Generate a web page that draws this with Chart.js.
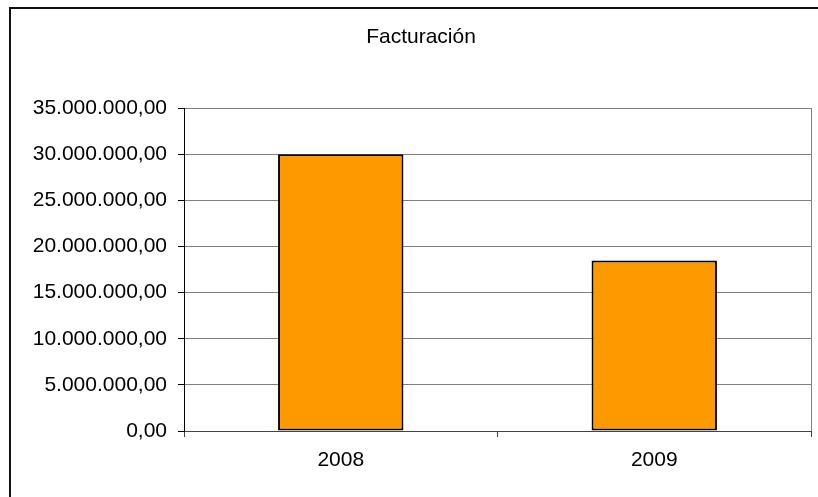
<!DOCTYPE html>
<html>
<head>
<meta charset="utf-8">
<title>Facturación</title>
<script src="https://cdn.jsdelivr.net/npm/chart.js@4.4.1/dist/chart.umd.min.js"></script>
<style>
    html, body { margin: 0; padding: 0; background: #fff; overflow: hidden; }
    .chart-wrap { position: relative; width: 818px; height: 497px; }
    .frame {
        position: absolute; left: 9px; top: 7px; width: 900px; height: 600px;
        border: 2px solid #111; pointer-events: none;
    }
</style>
</head>
<body>
<div class="chart-wrap">
    <canvas id="chart"></canvas>
    <div class="frame"></div>
</div>
<script>
// Chart data
const years = ['2008', '2009'];
const revenue = [30000000, 18500000];
const yMin = 0;
const yMax = 35000000;
const yStep = 5000000;

// 35000000 -> "35.000.000,00"
function formatEs(value) {
    const parts = Math.round(value).toString().replace(/\B(?=(\d{3})+(?!\d))/g, '.');
    return parts + ',00';
}

// draws the grey right-hand edge of the plot area
const plotEdge = {
    id: 'plotEdge',
    afterDraw(chart) {
        const { ctx, chartArea } = chart;
        ctx.save();
        ctx.strokeStyle = '#808080';
        ctx.lineWidth = 1;
        ctx.beginPath();
        ctx.moveTo(Math.round(chartArea.right) + 0.5, chartArea.top);
        ctx.lineTo(Math.round(chartArea.right) + 0.5, chartArea.bottom);
        ctx.stroke();
        ctx.restore();
    }
};

const ctx = document.getElementById('chart').getContext('2d');
new Chart(ctx, {
    type: 'bar',
    data: {
        labels: years,
        datasets: [{
            label: 'Facturación',
            data: revenue,
            backgroundColor: '#FF9900',
            borderColor: '#000000',
            borderWidth: 2,
            borderSkipped: false,
            barPercentage: 0.4,
            categoryPercentage: 1.0
        }]
    },
    options: {
        responsive: true,
        maintainAspectRatio: false,
        animation: false,
        // left padding shifts the title centre to the framed area
        layout: { padding: { left: 31, right: 7, top: 0, bottom: 0 } },
        font: { family: '"Liberation Sans", Arial, sans-serif' },
        plugins: {
            legend: { display: false },
            tooltip: { enabled: false },
            title: {
                display: true,
                text: 'Facturación',
                color: '#000',
                font: { family: '"Liberation Sans", Arial, sans-serif', size: 21, weight: 'normal' },
                padding: { top: 25, bottom: 58 }
            }
        },
        scales: {
            x: {
                grid: {
                    offset: true,
                    drawOnChartArea: false,
                    drawTicks: true,
                    tickLength: 6,
                    color: '#444'
                },
                border: { color: '#444', width: 1 },
                ticks: {
                    color: '#000',
                    padding: 11,
                    font: { family: '"Liberation Sans", Arial, sans-serif', size: 21 }
                },
                afterFit(scale) { scale.height = 66; }
            },
            y: {
                min: yMin,
                max: yMax,
                grid: {
                    color: '#808080',
                    tickColor: '#000',
                    tickLength: 6,
                    drawTicks: true
                },
                border: { color: '#000', width: 1 },
                ticks: {
                    stepSize: yStep,
                    color: '#000',
                    padding: 11,
                    font: { family: '"Liberation Sans", Arial, sans-serif', size: 21 },
                    callback: (v) => formatEs(v)
                },
                afterFit(scale) { scale.width = 153; }
            }
        }
    },
    plugins: [plotEdge]
});
</script>
</body>
</html>
